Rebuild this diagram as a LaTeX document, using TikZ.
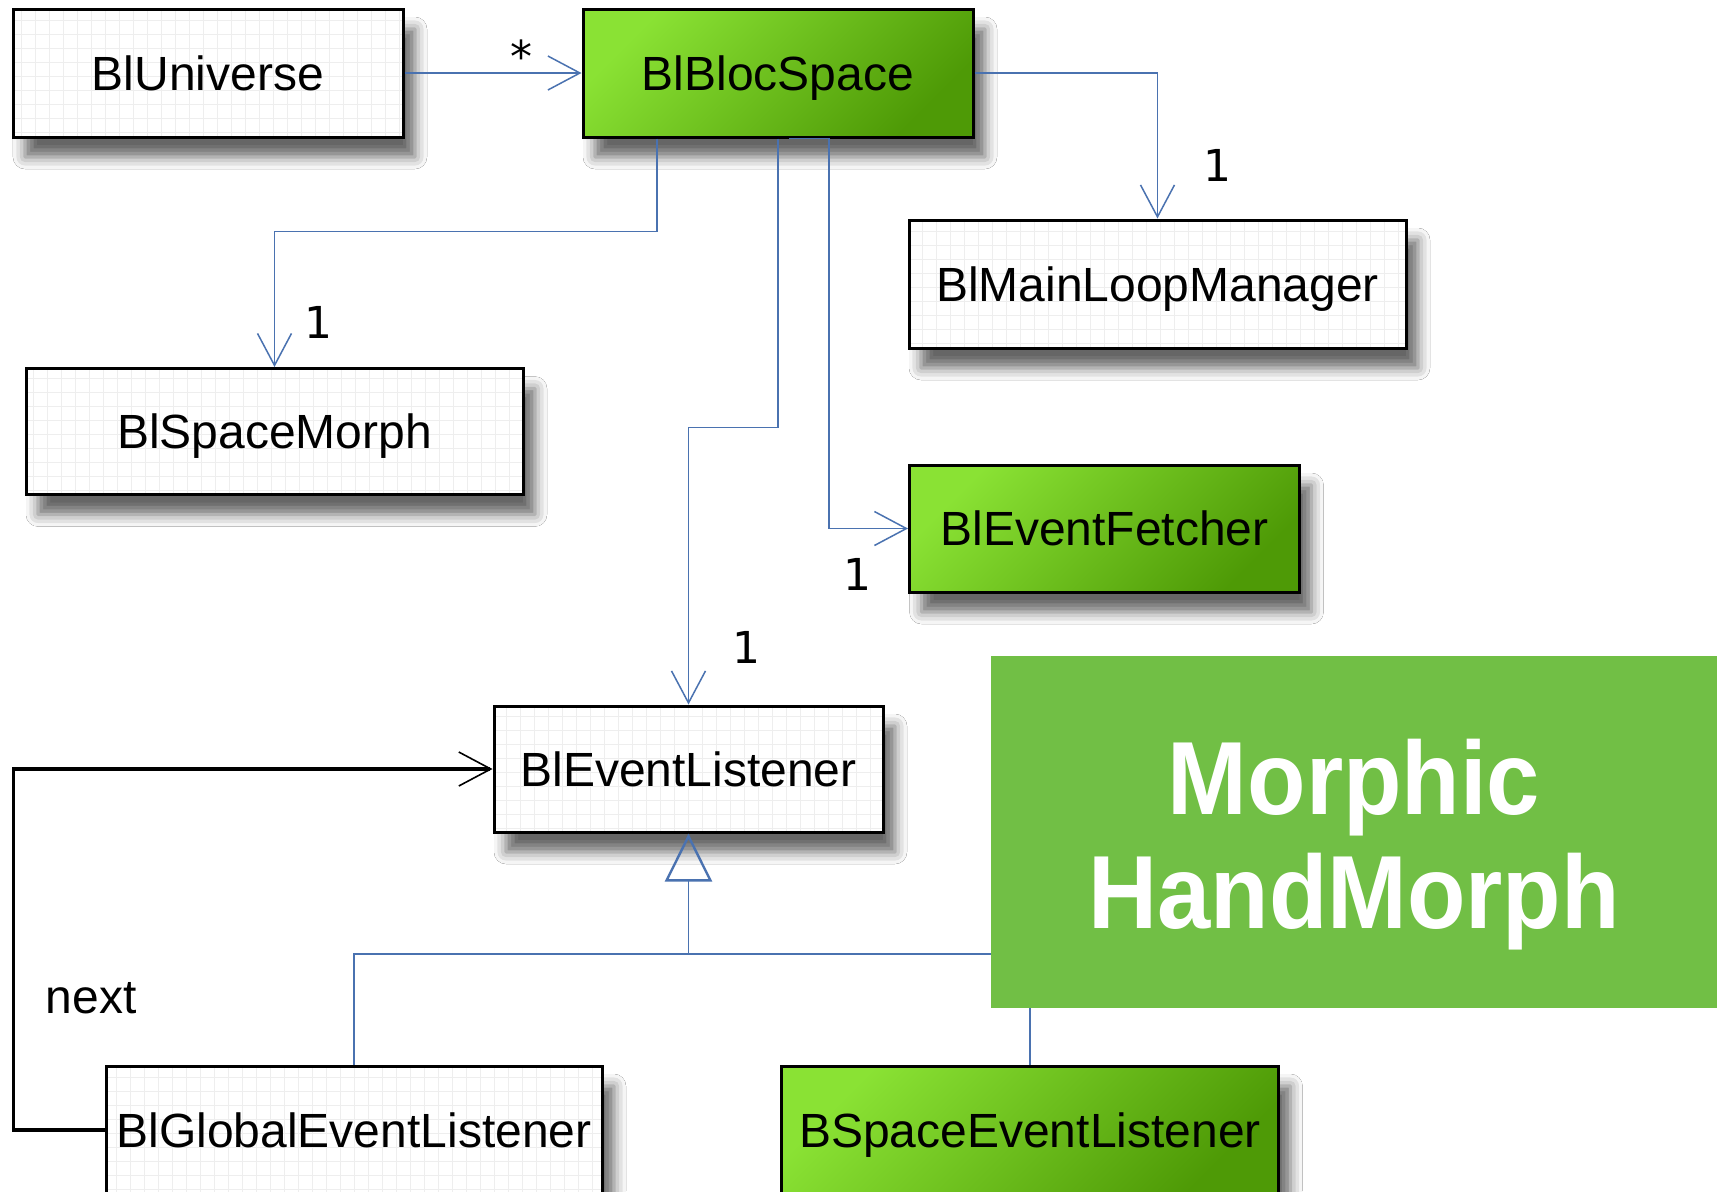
\documentclass[tikz,border=0pt]{standalone}
\usepackage{fontspec}
\setmainfont{Liberation Sans}
\newfontfamily\digitfont{DejaVu Sans}
\newfontfamily\bigbold[FakeStretch=0.92]{Liberation Sans Bold}
\usetikzlibrary{arrows.meta,shadows.blur}
\definecolor{lnblue}{HTML}{4A72B0}
\definecolor{lgreen}{HTML}{8AE234}
\definecolor{dgreen}{HTML}{4E9A06}
\definecolor{morphgreen}{HTML}{71BF45}
\definecolor{gridc}{HTML}{EEEEEE}
\tikzset{
  cls/.style={draw=black, line width=1.5pt, inner sep=0pt,
    font=\fontsize{24}{28}\selectfont, text height=17.2pt, text depth=0pt,
    blur shadow={shadow xshift=6pt, shadow yshift=-10pt, shadow blur radius=6pt, shadow opacity=60}},
  whitecls/.style={cls, fill=white,
    path picture={\draw[gridc, line width=0.5pt, step=7pt]
      (path picture bounding box.south west) grid (path picture bounding box.north east);}},
  greencls/.style={cls, top color=lgreen, bottom color=dgreen, shading angle=45},
  plain/.style={draw=lnblue, line width=0.75pt},
  assoc/.style={plain, -{Straight Barb[length=16pt,width=17pt]}},
  gen/.style={plain, -{Triangle[open, length=24pt, width=23.5pt, line width=1.2pt]}},
  nextarr/.style={draw=black, line width=1.6pt, -{Straight Barb[length=16pt,width=17pt,line width=0.8pt]}},
  lbl/.style={font=\digitfont\fontsize{22}{26}\selectfont, inner sep=0pt, anchor=base},
  txtlbl/.style={font=\fontsize{24}{28}\selectfont, inner sep=0pt, anchor=base}
}
\begin{document}
\begin{tikzpicture}[x=0.5pt, y=-0.5pt]
\useasboundingbox (0,0) rectangle (1726,1191);
\fill[white] (0,0) rectangle (1726,1191);
\clip (0,0) rectangle (1726,1191);

% classes
\node[whitecls, minimum width=195pt, minimum height=64pt] (uni) at (208,73) {BlUniverse};
\node[greencls, minimum width=195pt, minimum height=64pt] (bloc) at (778,73) {BlBlocSpace};
\node[whitecls, minimum width=248.5pt, minimum height=64pt] (mlm) at (1157.5,284) {BlMainLoopManager};
\node[whitecls, minimum width=248.5pt, minimum height=63pt] (spm) at (274.5,431.5) {BlSpaceMorph};
\node[greencls, minimum width=195pt, minimum height=63.5pt] (fetch) at (1104.5,528.5) {BlEventFetcher};
\node[whitecls, minimum width=194.5pt, minimum height=63pt] (bel) at (688.5,769) {BlEventListener};
\node[whitecls, minimum width=248pt, minimum height=64pt] (gel) at (354,1130) {BlGlobalEventListener};
\node[greencls, minimum width=248.5pt, minimum height=64pt] (bse) at (1030,1130) {BSpaceEventListener};

% associations
\draw[assoc] (uni.east) -- (bloc.west);
\draw[assoc] (bloc.east) -| (mlm.north);
\draw[assoc] ([xshift=-60.5pt]bloc.south) -- ++(0,93) -| (spm.north);
\draw[assoc] (bloc.south) -- ++(0,289) -| (bel.north);
\draw[assoc] ([xshift=5.5pt]bloc.south) -- ([xshift=25.5pt]bloc.south) |- (fetch.west);

% generalization
\coordinate (j) at (688.5,954);
\draw[plain] (gel.north) |- (j);
\draw[plain] (bse.north) |- (j);
\draw[gen] (j) -- (bel.south);

% next
\draw[nextarr] (gel.west) -- ++(-91,0) |- (bel.west);

% labels
\node[lbl] (star) at (521,72) {*};
\node[lbl] (m1) at (1217,181) {1};
\node[lbl] (m2) at (318,338) {1};
\node[lbl] (m3) at (746,663) {1};
\node[lbl] (m4) at (857,590) {1};
\node[txtlbl] (nextlbl) at (91,1013) {next};

% overlay
\node[fill=morphgreen, minimum width=363pt, minimum height=176pt, inner sep=0pt] (morphic) at (1354,832) {};
\node[inner sep=0pt, text=white, font=\bigbold\fontsize{52}{57}\selectfont, align=center] (morphictxt) at (1354,845) {Morphic\\HandMorph};
\end{tikzpicture}
\end{document}
